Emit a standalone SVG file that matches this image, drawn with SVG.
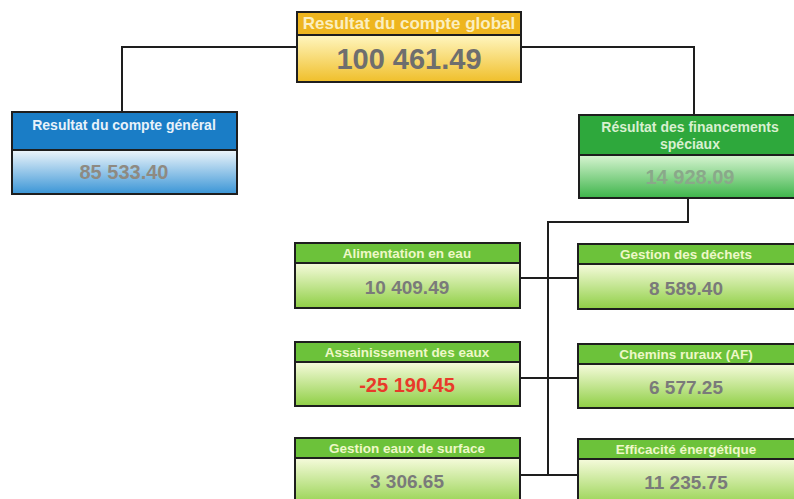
<svg xmlns="http://www.w3.org/2000/svg" width="794" height="499" viewBox="0 0 794 499">
<defs>
<linearGradient id="gY" x1="0" y1="0" x2="0" y2="1"><stop offset="0" stop-color="#fff6c0"/><stop offset="1" stop-color="#f0bf2a"/></linearGradient>
<linearGradient id="gB" x1="0" y1="0" x2="0" y2="1"><stop offset="0" stop-color="#eef6fb"/><stop offset="1" stop-color="#3a95d6"/></linearGradient>
<linearGradient id="gG" x1="0" y1="0" x2="0" y2="1"><stop offset="0" stop-color="#d8f5d2"/><stop offset="1" stop-color="#3db44a"/></linearGradient>
<linearGradient id="gL" x1="0" y1="0" x2="0" y2="1"><stop offset="0" stop-color="#f6fbdc"/><stop offset="1" stop-color="#8fcf45"/></linearGradient>
</defs>
<style>
.bd{stroke:#1e1e1e;stroke-width:2}
.hd{font-family:"Liberation Sans",Arial,sans-serif;font-size:13.5px;font-weight:bold;text-anchor:middle;fill:#eef8c8}
.vl{font-family:"Liberation Sans",Arial,sans-serif;font-size:19px;font-weight:bold;text-anchor:middle;fill:#7a7a7a}
.cn{fill:none;stroke:#1e1e1e;stroke-width:2}
</style>
<rect width="794" height="499" fill="#ffffff"/>
<g id="connectors">
<polyline class="cn" points="297,47 122,47 122,112"/>
<polyline class="cn" points="521,47 694,47 694,115"/>
<polyline class="cn" points="688,198 688,222 548,222 548,475"/>
<line class="cn" x1="520" y1="278" x2="578" y2="278"/>
<line class="cn" x1="520" y1="378" x2="578" y2="378"/>
<line class="cn" x1="520" y1="475" x2="578" y2="475"/>
</g>
<g id="global">
<rect x="297" y="35" width="224" height="47" fill="url(#gY)"/>
<rect x="297" y="12" width="224" height="23" fill="#eeb51e"/>
<rect class="bd" x="297" y="12" width="224" height="70" fill="none"/>
<line class="bd" x1="297" y1="35" x2="521" y2="35"/>
<text class="hd" x="409" y="29" style="font-size:17px;fill:#fbefc0">Resultat du compte global</text>
<text class="vl" x="409" y="69" style="font-size:29px;fill:#6e6e6e">100 461.49</text>
</g>
<g id="general">
<rect x="12" y="150" width="225" height="44" fill="url(#gB)"/>
<rect x="12" y="112" width="225" height="38" fill="#1a7dc6"/>
<rect class="bd" x="12" y="112" width="225" height="82" fill="none"/>
<line class="bd" x1="12" y1="150" x2="237" y2="150"/>
<text class="hd" x="124" y="130" style="font-size:14px;fill:#e8f2fa">Resultat du compte général</text>
<text class="vl" x="124" y="179" style="font-size:20px;fill:#8e8a82">85 533.40</text>
</g>
<g id="speciaux">
<rect x="579" y="155" width="220" height="43" fill="url(#gG)"/>
<rect x="579" y="115" width="220" height="40" fill="#2ea83c"/>
<rect class="bd" x="579" y="115" width="220" height="83" fill="none"/>
<line class="bd" x1="579" y1="155" x2="799" y2="155"/>
<text class="hd" x="690" y="132" style="font-size:14px;fill:#d8f0d0">Résultat des financements</text>
<text class="hd" x="690" y="149" style="font-size:14px;fill:#d8f0d0">spéciaux</text>
<text class="vl" x="690" y="184" style="font-size:20px;fill:#8aa88a">14 928.09</text>
</g>
<g id="alimentation">
<rect x="295" y="263" width="225" height="45" fill="url(#gL)"/>
<rect x="295" y="243" width="225" height="20" fill="#6cc23a"/>
<rect class="bd" x="295" y="243" width="225" height="65" fill="none"/>
<line class="bd" x1="295" y1="263" x2="520" y2="263"/>
<text class="hd" x="407" y="258">Alimentation en eau</text>
<text class="vl" x="407" y="294">10 409.49</text>
</g>
<g id="dechets">
<rect x="578" y="264" width="220" height="45" fill="url(#gL)"/>
<rect x="578" y="244" width="220" height="20" fill="#6cc23a"/>
<rect class="bd" x="578" y="244" width="220" height="65" fill="none"/>
<line class="bd" x1="578" y1="264" x2="798" y2="264"/>
<text class="hd" x="686" y="259">Gestion des déchets</text>
<text class="vl" x="686" y="295">8 589.40</text>
</g>
<g id="assainissement">
<rect x="295" y="362" width="225" height="44" fill="url(#gL)"/>
<rect x="295" y="342" width="225" height="20" fill="#6cc23a"/>
<rect class="bd" x="295" y="342" width="225" height="64" fill="none"/>
<line class="bd" x1="295" y1="362" x2="520" y2="362"/>
<text class="hd" x="407" y="357">Assainissement des eaux</text>
<text class="vl" x="407" y="392" style="font-size:20px;fill:#e83a2a">-25 190.45</text>
</g>
<g id="chemins">
<rect x="578" y="364" width="220" height="44" fill="url(#gL)"/>
<rect x="578" y="344" width="220" height="20" fill="#6cc23a"/>
<rect class="bd" x="578" y="344" width="220" height="64" fill="none"/>
<line class="bd" x1="578" y1="364" x2="798" y2="364"/>
<text class="hd" x="686" y="359">Chemins ruraux (AF)</text>
<text class="vl" x="686" y="394">6 577.25</text>
</g>
<g id="surface">
<rect x="295" y="458" width="225" height="50" fill="url(#gL)"/>
<rect x="295" y="438" width="225" height="20" fill="#6cc23a"/>
<rect class="bd" x="295" y="438" width="225" height="70" fill="none"/>
<line class="bd" x1="295" y1="458" x2="520" y2="458"/>
<text class="hd" x="407" y="453">Gestion eaux de surface</text>
<text class="vl" x="407" y="488">3 306.65</text>
</g>
<g id="efficacite">
<rect x="578" y="459" width="220" height="50" fill="url(#gL)"/>
<rect x="578" y="439" width="220" height="20" fill="#6cc23a"/>
<rect class="bd" x="578" y="439" width="220" height="70" fill="none"/>
<line class="bd" x1="578" y1="459" x2="798" y2="459"/>
<text class="hd" x="686" y="454">Efficacité énergétique</text>
<text class="vl" x="686" y="489">11 235.75</text>
</g>
</svg>
